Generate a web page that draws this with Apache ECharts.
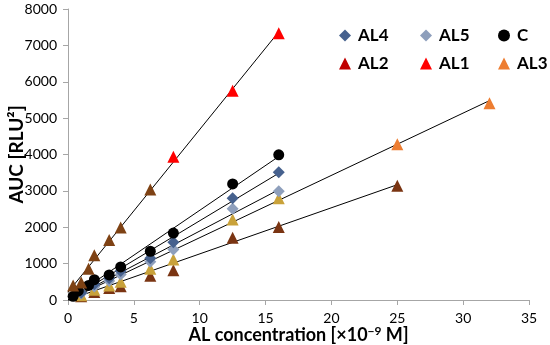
<!DOCTYPE html>
<html><head><meta charset="utf-8">
<script src="https://cdn.jsdelivr.net/npm/echarts@6/dist/echarts.min.js"></script>
<style>html,body{margin:0;padding:0;background:#fff}#c{width:550px;height:345px}</style>
</head><body><div id="c"></div>
<script>
// ---- data (concentration ×10^-9 M, AUC RLU²) ----
const xTicks = [0, 5, 10, 15, 20, 25, 30, 35];
const yTicks = [0, 1000, 2000, 3000, 4000, 5000, 6000, 7000, 8000];

const AL4_x = [1, 2, 3.125, 4, 6.25, 8, 12.5, 16];
const AL4_y = [200, 430, 600, 800, 1150, 1590, 2800, 3510];

const AL5_x = [1, 2, 3.125, 4, 6.25, 8, 12.5, 16];
const AL5_y = [180, 370, 520, 700, 1050, 1390, 2510, 2990];

const C_x = [0.39, 0.78, 1.56, 2, 3.125, 4, 6.25, 8, 12.5, 16];
const C_y = [100, 250, 400, 560, 690, 910, 1340, 1840, 3190, 3990];

const AL2_x = [1, 2, 3.125, 4, 6.25, 8, 12.5, 16, 25];
const AL2_y = [100, 220, 330, 380, 670, 820, 1710, 2010, 3140];

const AL1_x = [0.39, 1, 1.56, 2, 3.125, 4, 6.25, 8, 12.5, 16];
const AL1_y = [400, 480, 860, 1230, 1650, 1990, 3040, 3940, 5750, 7330];

const AL3_x = [1, 2, 3.125, 4, 6.25, 8, 12.5, 16, 25, 32];
const AL3_y = [130, 280, 400, 500, 860, 1110, 2210, 2800, 4280, 5410];

// ---- styles ----
const FONT = 'Lato';
const COL = {AL4:'#46618E', AL5:'#8E9FBC', C:'#000000', AL2:'#C00000', AL1:'#FF0000', AL3:'#ED7D31'};
const BROWN = '#7E4214', GOLD = '#C9A23A', DARK = '#7A3412';

function pts(xs, ys, colorFn) {
  return xs.map((x, i) => {
    const c = colorFn ? colorFn(x) : null;
    return c ? {value:[x, ys[i]], itemStyle:{color:c}} : {value:[x, ys[i]]};
  });
}
function fit(xs, ys) {
  const n = xs.length;
  let sx=0, sy=0, sxx=0, sxy=0;
  for (let i=0;i<n;i++){sx+=xs[i];sy+=ys[i];sxx+=xs[i]*xs[i];sxy+=xs[i]*ys[i];}
  const b = (n*sxy - sx*sy)/(n*sxx - sx*sx);
  const a = (sy - b*sx)/n;
  const x0 = 0, x1 = Math.max(...xs);
  return [[x0, Math.max(0, a + b*x0)], [x1, a + b*x1]];
}
const groups = [
  {name:'AL2', xs:AL2_x, ys:AL2_y, sym:'triangle', size:12, cf:()=>DARK},
  {name:'AL3', xs:AL3_x, ys:AL3_y, sym:'triangle', size:12, cf:(x)=> x>=25 ? null : GOLD},
  {name:'AL5', xs:AL5_x, ys:AL5_y, sym:'diamond', size:12, cf:null},
  {name:'AL4', xs:AL4_x, ys:AL4_y, sym:'diamond', size:12, cf:null},
  {name:'C',   xs:C_x,   ys:C_y,   sym:'circle', size:11, cf:null},
  {name:'AL1', xs:AL1_x, ys:AL1_y, sym:'triangle', size:12, cf:(x)=> x>=8 ? null : BROWN},
];
const series = [];
groups.forEach(g => {
  series.push({
    name:g.name, type:'scatter', symbol:g.sym, symbolSize:g.size, z:3,
    itemStyle:{color:COL[g.name], opacity:1}, data:pts(g.xs, g.ys, g.cf)
  });
});
groups.forEach(g => {
  series.push({
    name:'fit_'+g.name, type:'line', showSymbol:false, symbol:'none', silent:true, z:2,
    lineStyle:{color:'#000', width:1}, data:fit(g.xs, g.ys)
  });
});

const legendItems = [
  {name:'AL4', left:339, top:27, icon:'diamond'},
  {name:'AL5', left:420, top:27, icon:'diamond'},
  {name:'C',   left:498, top:27, icon:'circle'},
  {name:'AL2', left:339, top:55, icon:'triangle'},
  {name:'AL1', left:420, top:55, icon:'triangle'},
  {name:'AL3', left:498, top:55, icon:'triangle'},
];
const legends = legendItems.map(l => ({
  data:[{name:l.name, icon:l.icon}], left:l.left, top:l.top, itemWidth:12, itemHeight:12, itemGap:0,
  padding:0, textStyle:{fontFamily:FONT, fontWeight:'bold', fontSize:17, color:'#000', padding:[0,0,0,2]}, selectedMode:false
}));

const chart = echarts.init(document.getElementById('c'), null, {renderer:'canvas'});
chart.setOption({
  animation:false,
  backgroundColor:'#fff',
  legend: legends,
  grid:{left:68, right:21, top:9, bottom:45, containLabel:false, outerBoundsMode:'none'},
  xAxis:{
    type:'value', min:xTicks[0], max:xTicks[xTicks.length-1], interval:5,
    axisLine:{lineStyle:{color:'#A6A6A6'}}, axisTick:{show:true, length:5, lineStyle:{color:'#A6A6A6'}},
    splitLine:{show:false},
    axisLabel:{fontFamily:FONT, fontSize:14, color:'#000', margin:11},
    name:'AL concentration [×10{sup|−9} M]', nameLocation:'middle', nameGap:25, nameMoveOverlap:false,
    nameTextStyle:{fontFamily:FONT, fontWeight:'bold', fontSize:18, color:'#000', verticalAlign:'top',
      rich:{sup:{fontFamily:FONT, fontWeight:'bold', fontSize:12, color:'#000', verticalAlign:'top', padding:[0,0,8,0]}}}
  },
  yAxis:{
    type:'value', min:yTicks[0], max:yTicks[yTicks.length-1], interval:1000,
    axisLine:{show:true, lineStyle:{color:'#A6A6A6'}}, axisTick:{show:true, length:5, lineStyle:{color:'#A6A6A6'}},
    splitLine:{show:false},
    axisLabel:{fontFamily:FONT, fontSize:14, color:'#000', margin:11, formatter:(v)=>String(v)},
    name:'AUC [RLU²]', nameLocation:'middle', nameGap:42, nameRotate:90, nameMoveOverlap:false,
    nameTextStyle:{fontFamily:FONT, fontWeight:'bold', fontSize:19, color:'#000'}
  },
  series: series
});
</script>
</body></html>
